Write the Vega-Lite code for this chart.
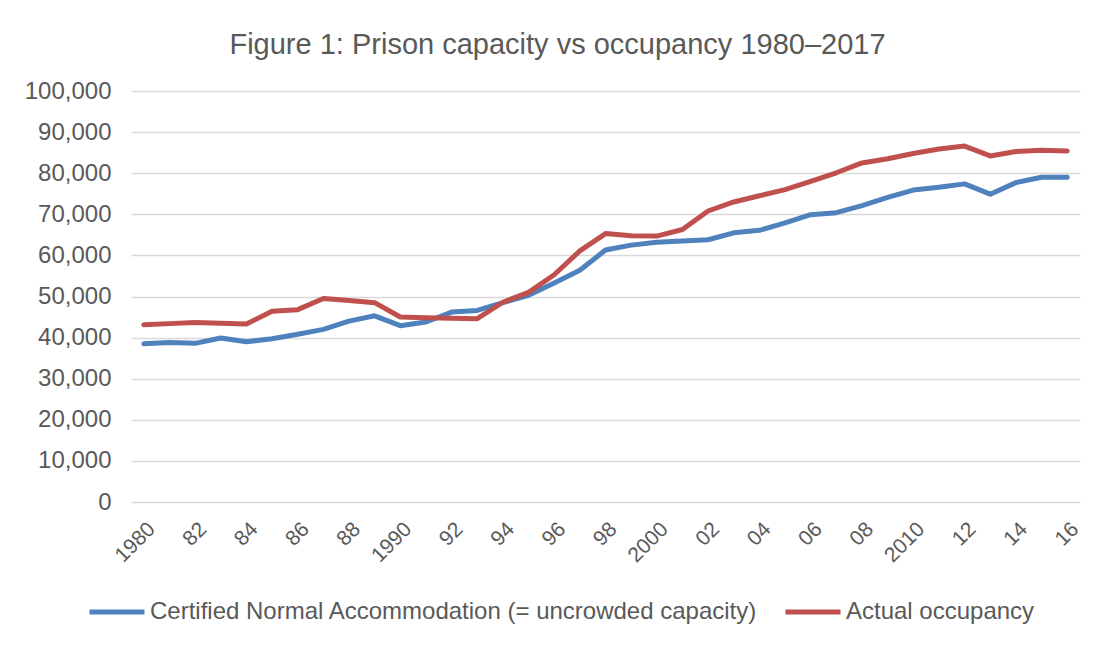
{
  "$schema": "https://vega.github.io/schema/vega-lite/v6.json",
  "width": 949,
  "height": 411,
  "autosize": {"type": "none"},
  "padding": {"left": 131, "top": 91, "right": 27, "bottom": 146},
  "background": "white",
  "title": {
    "text": "Figure 1: Prison capacity vs occupancy 1980–2017",
    "font": "Liberation Sans",
    "fontSize": 29,
    "fontWeight": "normal",
    "color": "#595959",
    "anchor": "middle",
    "frame": "group",
    "dx": -48,
    "offset": 19
  },
  "data": {
    "values": [
      {"year": 1980, "series": "Certified Normal Accommodation (= uncrowded capacity)", "value": 38500},
      {"year": 1981, "series": "Certified Normal Accommodation (= uncrowded capacity)", "value": 38800},
      {"year": 1982, "series": "Certified Normal Accommodation (= uncrowded capacity)", "value": 38600},
      {"year": 1983, "series": "Certified Normal Accommodation (= uncrowded capacity)", "value": 39900},
      {"year": 1984, "series": "Certified Normal Accommodation (= uncrowded capacity)", "value": 39000},
      {"year": 1985, "series": "Certified Normal Accommodation (= uncrowded capacity)", "value": 39700},
      {"year": 1986, "series": "Certified Normal Accommodation (= uncrowded capacity)", "value": 40800},
      {"year": 1987, "series": "Certified Normal Accommodation (= uncrowded capacity)", "value": 42000},
      {"year": 1988, "series": "Certified Normal Accommodation (= uncrowded capacity)", "value": 44000},
      {"year": 1989, "series": "Certified Normal Accommodation (= uncrowded capacity)", "value": 45300},
      {"year": 1990, "series": "Certified Normal Accommodation (= uncrowded capacity)", "value": 42900},
      {"year": 1991, "series": "Certified Normal Accommodation (= uncrowded capacity)", "value": 43800},
      {"year": 1992, "series": "Certified Normal Accommodation (= uncrowded capacity)", "value": 46200},
      {"year": 1993, "series": "Certified Normal Accommodation (= uncrowded capacity)", "value": 46600},
      {"year": 1994, "series": "Certified Normal Accommodation (= uncrowded capacity)", "value": 48500},
      {"year": 1995, "series": "Certified Normal Accommodation (= uncrowded capacity)", "value": 50300},
      {"year": 1996, "series": "Certified Normal Accommodation (= uncrowded capacity)", "value": 53300},
      {"year": 1997, "series": "Certified Normal Accommodation (= uncrowded capacity)", "value": 56400},
      {"year": 1998, "series": "Certified Normal Accommodation (= uncrowded capacity)", "value": 61300},
      {"year": 1999, "series": "Certified Normal Accommodation (= uncrowded capacity)", "value": 62500},
      {"year": 2000, "series": "Certified Normal Accommodation (= uncrowded capacity)", "value": 63200},
      {"year": 2001, "series": "Certified Normal Accommodation (= uncrowded capacity)", "value": 63500},
      {"year": 2002, "series": "Certified Normal Accommodation (= uncrowded capacity)", "value": 63800},
      {"year": 2003, "series": "Certified Normal Accommodation (= uncrowded capacity)", "value": 65500},
      {"year": 2004, "series": "Certified Normal Accommodation (= uncrowded capacity)", "value": 66100},
      {"year": 2005, "series": "Certified Normal Accommodation (= uncrowded capacity)", "value": 67900},
      {"year": 2006, "series": "Certified Normal Accommodation (= uncrowded capacity)", "value": 69900},
      {"year": 2007, "series": "Certified Normal Accommodation (= uncrowded capacity)", "value": 70400},
      {"year": 2008, "series": "Certified Normal Accommodation (= uncrowded capacity)", "value": 72100},
      {"year": 2009, "series": "Certified Normal Accommodation (= uncrowded capacity)", "value": 74100},
      {"year": 2010, "series": "Certified Normal Accommodation (= uncrowded capacity)", "value": 75900},
      {"year": 2011, "series": "Certified Normal Accommodation (= uncrowded capacity)", "value": 76600},
      {"year": 2012, "series": "Certified Normal Accommodation (= uncrowded capacity)", "value": 77400},
      {"year": 2013, "series": "Certified Normal Accommodation (= uncrowded capacity)", "value": 74900},
      {"year": 2014, "series": "Certified Normal Accommodation (= uncrowded capacity)", "value": 77700},
      {"year": 2015, "series": "Certified Normal Accommodation (= uncrowded capacity)", "value": 79000},
      {"year": 2016, "series": "Certified Normal Accommodation (= uncrowded capacity)", "value": 79000},
      {"year": 1980, "series": "Actual occupancy", "value": 43100},
      {"year": 1981, "series": "Actual occupancy", "value": 43400},
      {"year": 1982, "series": "Actual occupancy", "value": 43700},
      {"year": 1983, "series": "Actual occupancy", "value": 43500},
      {"year": 1984, "series": "Actual occupancy", "value": 43300},
      {"year": 1985, "series": "Actual occupancy", "value": 46400},
      {"year": 1986, "series": "Actual occupancy", "value": 46800},
      {"year": 1987, "series": "Actual occupancy", "value": 49500},
      {"year": 1988, "series": "Actual occupancy", "value": 49000},
      {"year": 1989, "series": "Actual occupancy", "value": 48500},
      {"year": 1990, "series": "Actual occupancy", "value": 45000},
      {"year": 1991, "series": "Actual occupancy", "value": 44800},
      {"year": 1992, "series": "Actual occupancy", "value": 44700},
      {"year": 1993, "series": "Actual occupancy", "value": 44600},
      {"year": 1994, "series": "Actual occupancy", "value": 48600},
      {"year": 1995, "series": "Actual occupancy", "value": 51000},
      {"year": 1996, "series": "Actual occupancy", "value": 55300},
      {"year": 1997, "series": "Actual occupancy", "value": 61100},
      {"year": 1998, "series": "Actual occupancy", "value": 65300},
      {"year": 1999, "series": "Actual occupancy", "value": 64800},
      {"year": 2000, "series": "Actual occupancy", "value": 64700},
      {"year": 2001, "series": "Actual occupancy", "value": 66300},
      {"year": 2002, "series": "Actual occupancy", "value": 70800},
      {"year": 2003, "series": "Actual occupancy", "value": 73000},
      {"year": 2004, "series": "Actual occupancy", "value": 74500},
      {"year": 2005, "series": "Actual occupancy", "value": 76000},
      {"year": 2006, "series": "Actual occupancy", "value": 78000},
      {"year": 2007, "series": "Actual occupancy", "value": 80100},
      {"year": 2008, "series": "Actual occupancy", "value": 82500},
      {"year": 2009, "series": "Actual occupancy", "value": 83500},
      {"year": 2010, "series": "Actual occupancy", "value": 84800},
      {"year": 2011, "series": "Actual occupancy", "value": 85900},
      {"year": 2012, "series": "Actual occupancy", "value": 86600},
      {"year": 2013, "series": "Actual occupancy", "value": 84200},
      {"year": 2014, "series": "Actual occupancy", "value": 85300},
      {"year": 2015, "series": "Actual occupancy", "value": 85600},
      {"year": 2016, "series": "Actual occupancy", "value": 85400}
    ]
  },
  "mark": {"type": "line", "strokeWidth": 5, "strokeCap": "round", "strokeJoin": "round"},
  "encoding": {
    "x": {
      "field": "year",
      "type": "quantitative",
      "scale": {"domain": [1979.5, 2016.5], "nice": false, "zero": false},
      "axis": {
        "title": null,
        "values": [1980, 1982, 1984, 1986, 1988, 1990, 1992, 1994, 1996, 1998, 2000, 2002, 2004, 2006, 2008, 2010, 2012, 2014, 2016],
        "labelExpr": "datum.value % 10 == 0 ? '' + datum.value : slice('' + datum.value, 2)",
        "labelAngle": -45,
        "labelAlign": "right",
        "labelBaseline": "top",
        "labelFont": "Liberation Sans",
        "labelFontSize": 21,
        "labelColor": "#595959",
        "labelPadding": 16,
        "labelDx": 0,
        "ticks": false,
        "domain": false,
        "grid": false,
        "labelOverlap": false
      }
    },
    "y": {
      "field": "value",
      "type": "quantitative",
      "scale": {"domain": [0, 100000], "nice": false},
      "axis": {
        "title": null,
        "values": [0, 10000, 20000, 30000, 40000, 50000, 60000, 70000, 80000, 90000, 100000],
        "format": ",d",
        "labelFont": "Liberation Sans",
        "labelFontSize": 24,
        "labelColor": "#595959",
        "labelPadding": 20,
        "ticks": false,
        "domain": false,
        "grid": true,
        "gridColor": "#d9d9d9",
        "gridWidth": 1.5
      }
    },
    "color": {
      "field": "series",
      "type": "nominal",
      "sort": ["Certified Normal Accommodation (= uncrowded capacity)", "Actual occupancy"],
      "scale": {
        "domain": ["Certified Normal Accommodation (= uncrowded capacity)", "Actual occupancy"],
        "range": ["#4f81bd", "#c0504d"]
      },
      "legend": {
        "title": null,
        "orient": "none",
        "direction": "horizontal",
        "legendX": -44,
        "legendY": 491,
        "symbolType": "stroke",
        "symbolSize": 3025,
        "symbolStrokeWidth": 5,
        "labelFont": "Liberation Sans",
        "labelFontSize": 24,
        "labelColor": "#595959",
        "labelOffset": 3,
        "columnPadding": 17,
        "labelLimit": 1000
      }
    }
  },
  "config": {"view": {"stroke": null}}
}
